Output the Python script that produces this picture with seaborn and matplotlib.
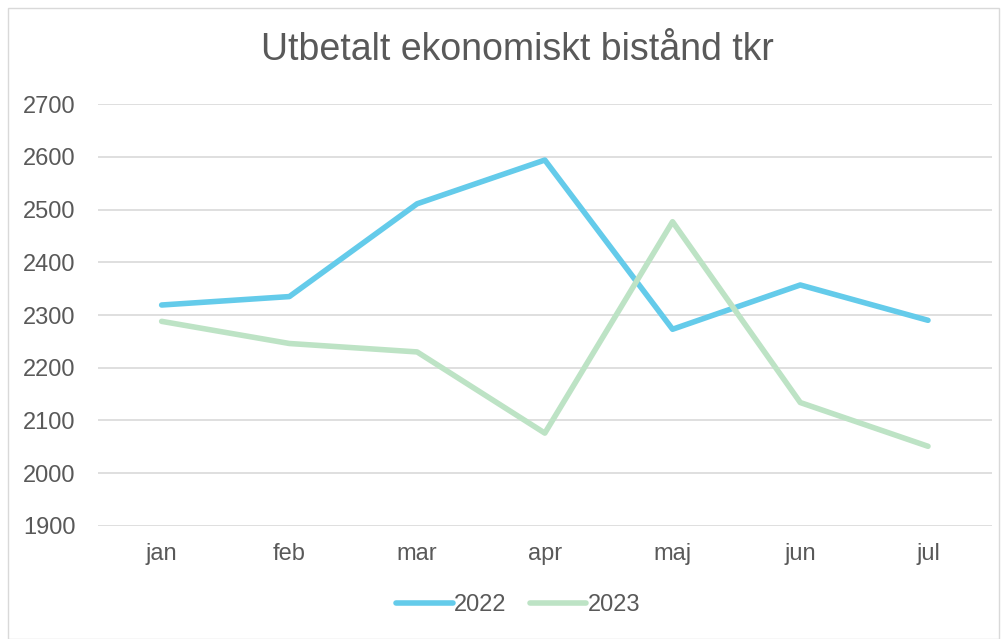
import pandas as pd
import matplotlib
matplotlib.use("Agg")
import matplotlib.pyplot as plt
import seaborn as sns
from matplotlib.patches import Rectangle

months = ["jan", "feb", "mar", "apr", "maj", "jun", "jul"]
v2022 = [2319, 2335, 2511, 2594, 2273, 2357, 2290]
v2023 = [2288, 2246, 2230, 2076, 2477, 2134, 2051]

df = pd.DataFrame({
    "month": months * 2,
    "value": v2022 + v2023,
    "year": ["2022"] * 7 + ["2023"] * 7,
})

sns.set_style("white")
plt.rcParams["font.family"] = ["Liberation Sans", "DejaVu Sans"]
txt = "#595959"

fig = plt.figure(figsize=(10.08, 6.39), dpi=100)
fig.patches.append(Rectangle((8 / 1008, 0), 991 / 1008, 631 / 639, transform=fig.transFigure,
                             fill=False, edgecolor="#d9d9d9", linewidth=1))
ax = fig.add_axes([0.097, 0.177, 0.887, 0.66])

sns.lineplot(data=df, x="month", y="value", hue="year", sort=False,
             palette={"2022": "#64CBEA", "2023": "#BDE3C5"}, linewidth=4,
             ax=ax, legend=True)

ax.set_ylim(1900, 2700)
ax.set_yticks(range(1900, 2701, 100))
ax.set_xlim(-0.5, 6.5)
ax.grid(axis="y", color="#d9d9d9", linewidth=1.2)
ax.set_axisbelow(True)
for s in ax.spines.values():
    s.set_visible(False)
ax.set_xlabel("")
ax.set_ylabel("")
ax.tick_params(axis="both", length=0, labelsize=17, labelcolor=txt)
ax.tick_params(axis="x", pad=12)
ax.tick_params(axis="y", pad=16)

fig.text(0.513, 0.922, "Utbetalt ekonomiskt bistånd tkr", ha="center", va="center",
         fontsize=27, color=txt)

h, l = ax.get_legend_handles_labels()
ax.legend(h, l, loc="center", bbox_to_anchor=(0.47, -0.188), ncol=2, frameon=False,
          fontsize=17, labelcolor=txt, handlelength=2.4, handletextpad=0.05,
          columnspacing=1.0)

fig.savefig("out.png", dpi=100)
